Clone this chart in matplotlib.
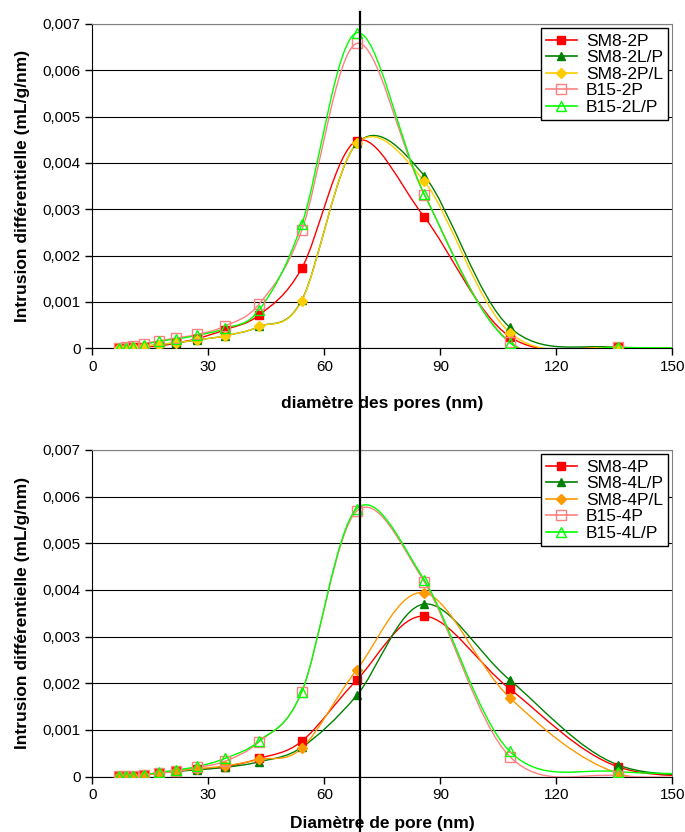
import matplotlib
matplotlib.use("Agg")
import matplotlib.pyplot as plt
from matplotlib.path import Path
from matplotlib.patches import PathPatch
from matplotlib.lines import Line2D
from matplotlib.ticker import FuncFormatter, MultipleLocator
import matplotlib.transforms as mtransforms

plt.rcParams['font.family'] = ['Liberation Sans', 'DejaVu Sans']

# pore diameters (nm); last point lies beyond the visible axis
diam = [7.0, 8.6, 10.6, 13.4, 17.2, 21.6, 27.2, 34.3, 43.2, 54.2, 68.4, 85.9, 108.0, 136.0, 171.0]

# top chart (mL/g/nm)
labels_top = ['SM8-2P', 'SM8-2L/P', 'SM8-2P/L', 'B15-2P', 'B15-2L/P']
sm8_2p = [0.00001, 0.00001, 0.00002, 0.00003, 0.00005, 0.00011, 0.00021, 0.00040, 0.00072, 0.00173, 0.00448, 0.00283, 0.00025, 0.00002, 0.00001]
sm8_2lp = [0.00001, 0.00001, 0.00002, 0.00004, 0.00008, 0.00012, 0.00018, 0.00027, 0.00047, 0.00104, 0.00442, 0.00372, 0.00045, 0.00002, 0.00001]
sm8_2pl = [0.00001, 0.00001, 0.00002, 0.00004, 0.00008, 0.00012, 0.00018, 0.00027, 0.00047, 0.00103, 0.00442, 0.00360, 0.00034, 0.00001, 0.00001]
b15_2p = [0.00001, 0.00002, 0.00004, 0.00010, 0.00016, 0.00022, 0.00030, 0.00048, 0.00096, 0.00255, 0.00658, 0.00331, 0.00014, 0.00002, 0.00001]
b15_2lp = [0.00001, 0.00001, 0.00003, 0.00008, 0.00015, 0.00020, 0.00028, 0.00043, 0.00083, 0.00268, 0.00681, 0.00332, 0.00012, 0.00002, 0.00001]

# bottom chart (mL/g/nm)
labels_bot = ['SM8-4P', 'SM8-4L/P', 'SM8-4P/L', 'B15-4P', 'B15-4L/P']
sm8_4p = [0.00001, 0.00001, 0.00002, 0.00004, 0.00008, 0.00012, 0.00016, 0.00021, 0.00039, 0.00076, 0.00207, 0.00344, 0.00188, 0.00021, 0.00003]
sm8_4lp = [0.00001, 0.00001, 0.00002, 0.00004, 0.00008, 0.00011, 0.00015, 0.00020, 0.00032, 0.00063, 0.00174, 0.00370, 0.00207, 0.00025, 0.00005]
sm8_4pl = [0.00001, 0.00001, 0.00002, 0.00004, 0.00008, 0.00012, 0.00017, 0.00023, 0.00037, 0.00061, 0.00229, 0.00394, 0.00169, 0.00007, -0.00002]
b15_4p = [0.00001, 0.00001, 0.00002, 0.00004, 0.00007, 0.00012, 0.00020, 0.00033, 0.00075, 0.00182, 0.00569, 0.00417, 0.00043, 0.00002, 0.00001]
b15_4lp = [0.00001, 0.00001, 0.00002, 0.00004, 0.00009, 0.00014, 0.00022, 0.00039, 0.00077, 0.00182, 0.00574, 0.00421, 0.00054, 0.00011, 0.00008]

yticks = [0, 0.001, 0.002, 0.003, 0.004, 0.005, 0.006, 0.007]

styles_top = [
    dict(color='#FF0000', marker='s', mfc='#FF0000', ms=6),
    dict(color='#008000', marker='^', mfc='#008000', ms=6),
    dict(color='#FFCC00', marker='D', mfc='#FFCC00', ms=5),
    dict(color='#FF8080', marker='s', mfc='none', ms=7),
    dict(color='#00FF00', marker='^', mfc='none', ms=7),
]
styles_bot = [
    dict(color='#FF0000', marker='s', mfc='#FF0000', ms=6),
    dict(color='#008000', marker='^', mfc='#008000', ms=6),
    dict(color='#FF9900', marker='D', mfc='#FF9900', ms=5),
    dict(color='#FF8080', marker='s', mfc='none', ms=7),
    dict(color='#00FF00', marker='^', mfc='none', ms=7),
]


def smooth_path(x, y):
    """Excel-like smoothed line: cubic Bezier segments with Catmull-Rom tangents."""
    n = len(x)
    verts = [(x[0], y[0])]
    codes = [Path.MOVETO]
    for i in range(n - 1):
        i0 = max(i - 1, 0)
        i3 = min(i + 2, n - 1)
        c1 = (x[i] + (x[i + 1] - x[i0]) / 6, y[i] + (y[i + 1] - y[i0]) / 6)
        c2 = (x[i + 1] - (x[i3] - x[i]) / 6, y[i + 1] - (y[i3] - y[i]) / 6)
        verts += [c1, c2, (x[i + 1], y[i + 1])]
        codes += [Path.CURVE4] * 3
    return Path(verts, codes)


def draw_panel(ax, series, labels, styles, xlabel, xpad):
    handles = []
    for y, lab, st in zip(series, labels, styles):
        ax.add_patch(PathPatch(smooth_path(diam, y), fill=False,
                               edgecolor=st['color'], lw=1.0, zorder=3))
        ax.plot(diam, y, ls='none', marker=st['marker'], ms=st['ms'],
                mfc=st['mfc'], mec=st['color'], mew=1.0, zorder=4)
        handles.append(Line2D([], [], color=st['color'], lw=1.2, marker=st['marker'],
                              ms=st['ms'], mfc=st['mfc'], mec=st['color']))
    ax.set_xlim(0, 150)
    ax.set_ylim(0, 0.007)
    ax.xaxis.set_major_locator(MultipleLocator(30))
    ax.set_yticks(yticks)
    ax.yaxis.set_major_formatter(FuncFormatter(lambda v, p: ('%g' % round(v, 4)).replace('.', ',')))
    ax.grid(axis='y', color='black', lw=0.8)
    ax.set_axisbelow(True)
    for s in ['top', 'right']:
        ax.spines[s].set_color('#808080')
    ax.tick_params(labelsize=11, length=5, width=1)
    ax.set_xlabel(xlabel, fontsize=12.5, fontweight='bold', labelpad=xpad)
    ax.set_ylabel('Intrusion différentielle (mL/g/nm)', fontsize=12.5, fontweight='bold',
                  labelpad=9)
    leg = ax.legend(handles, labels, loc='upper right', fontsize=12.5, fancybox=False,
                    framealpha=1, edgecolor='black', borderaxespad=0.25,
                    handlelength=1.8, labelspacing=0.08, borderpad=0.3, handletextpad=0.5)
    leg.get_frame().set_linewidth(1.0)
    leg.set_zorder(10)


fig = plt.figure(figsize=(6.85, 8.32), dpi=100)
ax1 = fig.add_axes([0.1347, 0.5814, 0.8467, 0.3898])
ax2 = fig.add_axes([0.1347, 0.0665, 0.8467, 0.3927])

draw_panel(ax1, [sm8_2p, sm8_2lp, sm8_2pl, b15_2p, b15_2lp], labels_top, styles_top,
           'diamètre des pores (nm)', 16)
draw_panel(ax2, [sm8_4p, sm8_4lp, sm8_4pl, b15_4p, b15_4lp], labels_bot, styles_bot,
           'Diamètre de pore (nm)', 10)

# vertical reference line through both charts
trans = mtransforms.blended_transform_factory(ax1.transData, fig.transFigure)
fig.add_artist(Line2D([69.2, 69.2], [0.0, 0.986], transform=trans, color='black', lw=1.6, zorder=20))

fig.savefig('out.png', dpi=100)
